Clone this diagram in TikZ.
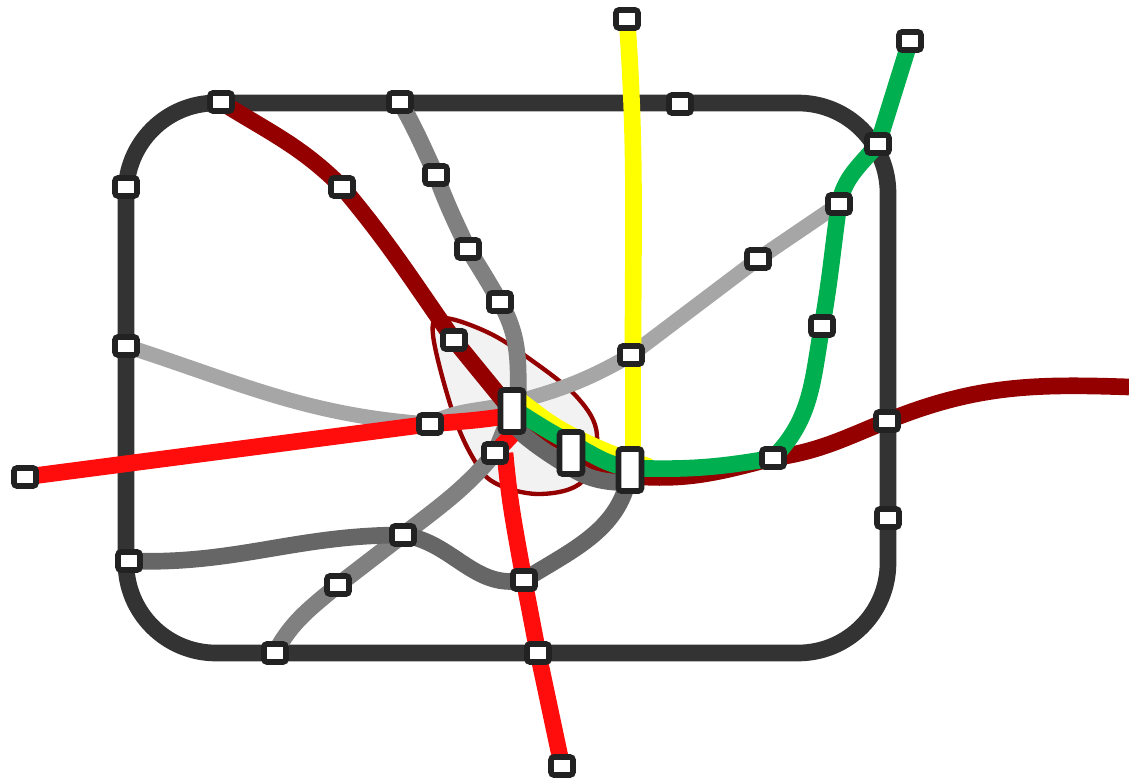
\documentclass[tikz,border=0pt]{standalone}
\usepackage{xcolor}
\usetikzlibrary{backgrounds}
\definecolor{ringcol}{HTML}{333333}
\definecolor{stopcol}{HTML}{222222}
\definecolor{lightline}{HTML}{A6A6A6}
\definecolor{midline}{HTML}{808080}
\definecolor{darkline}{HTML}{666666}
\definecolor{maroonline}{HTML}{940000}
\definecolor{redline}{HTML}{FF0D0D}
\definecolor{yellowline}{HTML}{FFFF00}
\definecolor{greenline}{HTML}{00B050}
\definecolor{blobfill}{HTML}{F2F2F2}

\begin{document}
\begin{tikzpicture}[
    x=0.75pt, y=-0.75pt,
    stopbox/.style={rectangle, draw=stopcol, fill=white, line width=4.25pt, rounded corners=2.25pt, inner sep=0pt, minimum width=16.5pt, minimum height=13.5pt},
    hubbox/.style={stopbox, minimum width=17.25pt, minimum height=31.5pt},
    metro/.style={line width=12.5pt},
    ringline/.style={metro, draw=ringcol},
    lightl/.style={line width=11.25pt, draw=lightline},
    midl/.style={metro, draw=midline},
    darkl/.style={metro, draw=darkline},
    maroonl/.style={metro, draw=maroonline},
    redl/.style={metro, draw=redline},
    yellowl/.style={metro, draw=yellowline},
    greenl/.style={metro, draw=greenline}
]
    \useasboundingbox (0,0) rectangle (1129,781);

    \node[stopbox] (ringNW) at (221,102) {};
    \node[stopbox] (ringN) at (400,102) {};
    \node[stopbox] (ringNE) at (680,104) {};
    \node[stopbox] (ringE1) at (878,144) {};
    \node[stopbox] (ringE2) at (887,421) {};
    \node[stopbox] (ringE3) at (888,518) {};
    \node[stopbox] (ringS1) at (538,653) {};
    \node[stopbox] (ringS2) at (275,653) {};
    \node[stopbox] (ringW1) at (129,561) {};
    \node[stopbox] (ringW2) at (126,346) {};
    \node[stopbox] (ringW3) at (126,187) {};

    \node[stopbox] (maroonA) at (342,187) {};
    \node[stopbox] (maroonB) at (454,340) {};
    \node[stopbox] (midA) at (436,175) {};
    \node[stopbox] (midB) at (468,249) {};
    \node[stopbox] (midC) at (500,302) {};
    \node[stopbox] (midD) at (495,453) {};
    \node[stopbox] (crossW) at (403,535) {};
    \node[stopbox] (midE) at (338,585) {};
    \node[stopbox] (crossS) at (524,580) {};
    \node[stopbox] (redW) at (25,477) {};
    \node[stopbox] (redA) at (430,424) {};
    \node[stopbox] (redS) at (562,766) {};
    \node[stopbox] (yellowN) at (627,19) {};
    \node[stopbox] (crossY) at (631,355) {};
    \node[stopbox] (lightA) at (758,259) {};
    \node[stopbox] (crossG) at (839,204) {};
    \node[stopbox] (greenA) at (822,326) {};
    \node[stopbox] (greenB) at (773,458) {};
    \node[stopbox] (greenN) at (910,41) {};

    \node[hubbox] (hubA) at (512,411) {};
    \node[hubbox] (hubB) at (571,453) {};
    \node[hubbox] (hubC) at (630,470) {};

    \coordinate (maroonE) at (1129,387);
    \coordinate (yellowE) at (650,467);

    \begin{pgfonlayer}{background}
        \draw[ringline, rounded corners=67.5pt] (126,103) rectangle (888,653);

        \draw[maroonline, fill=blobfill, line width=3.25pt] plot[smooth cycle, tension=0.6] coordinates {(443,318) (487,332) (527,357) (577,397) (597,435) (583,481) (540,494) (495,483) (473,458) (452,410) (433,335)};

        \draw[lightl] (ringW2.center) to[out=-18,in=176] (redA.center);
        \draw[lightl] (redA.center) to[out=28,in=195] ([yshift=6pt]hubA.center);
        \draw[lightl] ([yshift=6pt]hubA.center) to[out=15,in=210] (crossY.center);
        \draw[lightl] (crossY.center) -- (lightA.center);
        \draw[lightl] (lightA.center) -- (crossG.center);

        \draw[maroonl] (ringNW.center) to[out=-32,in=135] (maroonA.center);
        \draw[maroonl] (maroonA.center) to[out=-50,in=125] (maroonB.center);
        \draw[maroonl] (maroonB.center) -- (hubA.center);
        \draw[maroonl] ([yshift=-2.25pt]hubA.center) to[out=-35,in=150] ([yshift=4.5pt]hubB.center);
        \draw[maroonl] ([yshift=4.5pt]hubB.center) to[out=-30,in=172] ([yshift=-4.5pt]hubC.center);
        \draw[maroonl] ([yshift=-4.5pt]hubC.center) to[out=-5,in=195] (greenB.center);
        \draw[maroonl] (greenB.center) to[out=8,in=202] (ringE2.center);
        \draw[maroonl] (ringE2.center) to[out=22,in=178] (maroonE);

        \draw[midl] (ringN.center) to[out=-60,in=115] (midA.center);
        \draw[midl] (midA.center) to[out=-70,in=115] (midB.center);
        \draw[midl] (midB.center) to[out=-58,in=120] (midC.center);
        \draw[midl] (midC.center) to[out=-60,in=90] ([xshift=4.5pt]hubA.center);
        \draw[midl] (hubA.center) -- (midD.center);
        \draw[midl] (midD.center) to[out=-130,in=38] (crossW.center);
        \draw[midl] (crossW.center) -- (midE.center);
        \draw[midl] (midE.center) to[out=-140,in=62] (ringS2.center);

        \draw[darkl] ([yshift=-10.5pt]hubA.center) to[out=-42,in=148] ([yshift=-11.25pt]hubB.center);
        \draw[darkl] ([yshift=-11.25pt]hubB.center) to[out=-32,in=178] ([yshift=-9.75pt]hubC.center);
        \draw[darkl] (hubC.center) to[out=-98,in=32] (crossS.center);
        \draw[darkl] (crossS.center) to[out=192,in=-8] (crossW.center);
        \draw[darkl] (crossW.center) to[out=180,in=-2] (ringW1.center);

        \draw[redl] (redW.center) -- (redA.center);
        \draw[redl] (redA.center) to[out=5,in=190] ([yshift=-3pt]hubA.center);
        \draw[redl] (hubA.south) -- (midD.center);
        \draw[redl] ([xshift=7.5pt]midD.center) to[out=-85,in=100] (crossS.center);
        \draw[redl] (crossS.center) -- (ringS1.center);
        \draw[redl] (ringS1.center) -- (redS.center);

        \draw[yellowl] (yellowN.center) to[out=-86,in=90] ([xshift=1.5pt]crossY.center);
        \draw[yellowl] ([xshift=1.5pt]crossY.center) -- ([xshift=2.25pt]hubC.center);
        \draw[yellowl] ([yshift=12pt]hubA.center) to[out=-35,in=153] ([yshift=13.5pt]hubB.center);
        \draw[yellowl] ([yshift=13.5pt]hubB.center) to[out=-27,in=162] (yellowE);

        \draw[greenl] ([yshift=2.25pt]hubA.center) to[out=-32,in=153] ([yshift=7.5pt]hubB.center);
        \draw[greenl] ([yshift=7.5pt]hubB.center) to[out=-27,in=172] ([yshift=1.5pt]hubC.center);
        \draw[greenl] ([yshift=1.5pt]hubC.center) to[out=-2,in=190] (greenB.center);
        \draw[greenl] (greenB.center) to[out=45,in=-100] (greenA.center);
        \draw[greenl] (greenA.center) to[out=80,in=-98] (crossG.center);
        \draw[greenl] (crossG.center) to[out=78,in=-130] (ringE1.center);
        \draw[greenl] (ringE1.center) -- (greenN.center);
    \end{pgfonlayer}
\end{tikzpicture}
\end{document}
